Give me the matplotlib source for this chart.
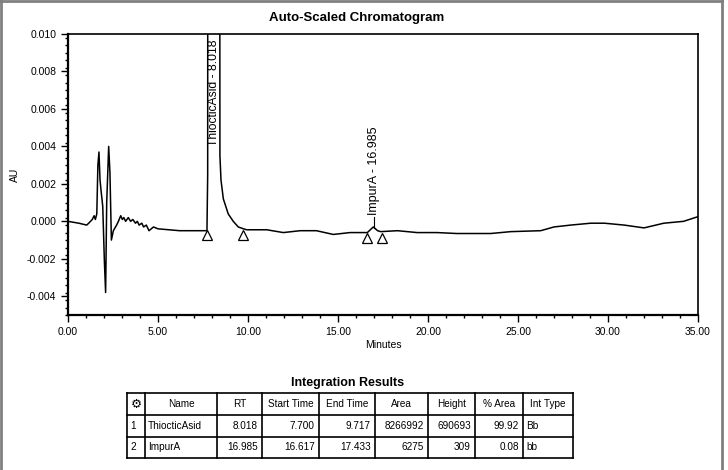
import matplotlib
matplotlib.use("Agg")
import matplotlib.pyplot as plt
from matplotlib.lines import Line2D

plt.rcParams["font.family"] = ["Liberation Sans", "DejaVu Sans"]

# ── chromatogram trace (minutes, AU) ───────────────────────────────────
t = [0.00, 0.60, 1.04, 1.15, 1.25, 1.35, 1.45, 1.52, 1.60, 1.66, 1.72,
     1.78, 1.83, 1.93, 2.02, 2.09, 2.15, 2.26, 2.33, 2.41, 2.52, 2.70, 2.80,
     2.93, 3.02, 3.10, 3.20, 3.35, 3.48, 3.60, 3.75, 3.85, 3.95, 4.10, 4.20,
     4.35, 4.50, 4.75, 5.00, 6.20, 7.00, 7.72, 7.76, 8.018, 8.44, 8.50, 8.63,
     8.90, 9.18, 9.46, 9.75, 9.93, 11.04, 11.96, 12.90, 13.80, 14.74, 15.67,
     16.44, 16.63, 16.96, 17.20, 17.37, 18.30, 19.40, 20.50, 21.60, 23.48,
     24.60, 26.26, 27.00, 27.93, 29.04, 29.80, 30.90, 32.00, 33.10, 34.20,
     35.00]
au = [0.0000, -0.0001, -0.0002, -0.0001, 0.0000, 0.0001, 0.0003, 0.0001,
      0.0004, 0.0030, 0.0037, 0.0022, 0.0017, 0.0008, -0.0021, -0.0038,
      0.0010, 0.0040, 0.0026, -0.0010, -0.0005, -0.0002, 0.0000, 0.0003,
      0.0001, 0.0002, 0.0000, 0.0002, 0.0000, 0.0001, -0.0001, 0.0000,
      -0.0002, -0.0001, -0.0003, -0.0002, -0.0005, -0.0003, -0.0004,
      -0.0005, -0.0005, -0.0005, 0.0025, 0.6907, 0.0035, 0.0022, 0.0012,
      0.0004, 0.0000, -0.0003, -0.0004, -0.00045, -0.00045, -0.0006, -0.0005,
      -0.0005, -0.0007, -0.0006, -0.0006, -0.0006, -0.0003, -0.0005,
      -0.00055, -0.0005, -0.0006, -0.0006, -0.00065, -0.00065, -0.00055,
      -0.0005, -0.0003, -0.0002, -0.0001, -0.0001, -0.0002, -0.00035,
      -0.0001, 0.0000, 0.00025]

# integration marks
bounds_t = [7.700, 9.717, 16.617, 17.433]
bounds_au = [-0.00075, -0.00075, -0.0009, -0.0009]
peak_names = ["ThiocticAsid", "ImpurA"]
peak_rt = [8.018, 16.985]
peak_label_au = [0.0040, 0.00035]

# integration results table
columns = ["", "Name", "RT", "Start Time", "End Time", "Area", "Height",
           "% Area", "Int Type"]
row_ids = ["1", "2"]
rt_vals = ["8.018", "16.985"]
start_vals = ["7.700", "16.617"]
end_vals = ["9.717", "17.433"]
area_vals = ["8266992", "6275"]
height_vals = ["690693", "309"]
pct_area = ["99.92", "0.08"]
int_type = ["Bb", "bb"]

W, H = 728, 470
fig = plt.figure(figsize=(W / 100, H / 100), dpi=100)

ax = fig.add_axes([68 / W, 1 - 315 / H, 630 / W, 281 / H])
ax.plot(t, au, color="black", linewidth=1.1)
ax.plot(bounds_t, bounds_au, linestyle="none", marker="^", markersize=7.5,
        markerfacecolor="white", markeredgecolor="black", markeredgewidth=0.9)

ax.set_xlim(0, 35)
ax.set_ylim(-0.005, 0.010)
ax.set_xticks([0, 5, 10, 15, 20, 25, 30, 35])
ax.set_xticklabels([f"{v:.2f}" for v in [0, 5, 10, 15, 20, 25, 30, 35]])
ax.set_xticks(range(0, 36), minor=True)
yt = [-0.004, -0.002, 0.000, 0.002, 0.004, 0.006, 0.008, 0.010]
ax.set_yticks(yt)
ax.set_yticklabels([f"{v:.3f}" for v in yt])
ax.set_yticks([-0.005 + 0.0004 * i for i in range(38)], minor=True)
ax.tick_params(which="both", direction="out", labelsize=7.5, width=1.0)
ax.tick_params(which="major", length=5)
ax.tick_params(which="minor", length=2.5)
for s in ["left", "bottom"]:
    ax.spines[s].set_linewidth(1.6)
for s in ["top", "right"]:
    ax.spines[s].set_linewidth(1.2)

ax.set_xlabel("Minutes", fontsize=7.5, labelpad=2)
ax.set_ylabel("AU", fontsize=7.5, labelpad=5)

fig.text(357 / W, 1 - 18 / H, "Auto-Scaled Chromatogram", ha="center",
         va="center", fontsize=9.5, fontweight="bold")

# peak labels
ax.text(peak_rt[0] + 0.09, peak_label_au[0], f"{peak_names[0]} - {peak_rt[0]:.3f}",
        rotation=90, ha="center", va="bottom", fontsize=8.7, clip_on=True)
ax.plot([peak_rt[1], peak_rt[1]], [-0.00035, peak_label_au[1] - 0.0001],
        color="black", linewidth=0.8)
ax.text(peak_rt[1], peak_label_au[1], f"{peak_names[1]} - {peak_rt[1]:.3f}",
        rotation=90, ha="center", va="bottom", fontsize=9)

# ── integration results table ──────────────────────────────────────────
xs = [127, 145, 217, 262, 319, 375, 428, 475, 523, 573]
ys = [393, 415, 437, 458]
tab = fig.add_axes([127 / W, 1 - 458 / H, 446 / W, 65 / H])
tab.set_xlim(127, 573)
tab.set_ylim(458, 393)
tab.axis("off")
for x in xs:
    tab.plot([x, x], [ys[0], ys[-1]], color="black", linewidth=1.2,
             clip_on=False)
for y in ys:
    tab.plot([xs[0], xs[-1]], [y, y], color="black", linewidth=1.2,
             clip_on=False)

fig.text(348 / W, 1 - 383 / H, "Integration Results", ha="center",
         va="center", fontsize=9, fontweight="bold")

hy = (ys[0] + ys[1]) / 2
tab.text((xs[0] + xs[1]) / 2, hy, "⚙", ha="center", va="center",
         fontsize=9, fontweight="bold", family=["DejaVu Sans"])
for i in range(1, len(columns)):
    tab.text((xs[i] + xs[i + 1]) / 2, hy, columns[i], ha="center",
             va="center", fontsize=7.2)

rows = list(zip(row_ids, peak_names, rt_vals, start_vals, end_vals,
                area_vals, height_vals, pct_area, int_type))
aligns = ["left", "left", "right", "right", "right", "right", "right",
          "right", "left"]
for r, row in enumerate(rows):
    cy = (ys[r + 1] + ys[r + 2]) / 2
    for c, val in enumerate(row):
        if aligns[c] == "left":
            tab.text(xs[c] + 3, cy, val, ha="left", va="center", fontsize=7.2)
        else:
            tab.text(xs[c + 1] - 4, cy, val, ha="right", va="center",
                     fontsize=7.2)

# outer grey frame (left, top, right)
for line in [([0.6 / W, 0.6 / W], [0, 1]),
             ([0, 722 / W], [1 - 0.8 / H, 1 - 0.8 / H]),
             ([721.5 / W, 721.5 / W], [0, 1])]:
    fig.add_artist(Line2D(line[0], line[1], color="#808080", linewidth=2.0))

fig.savefig("out.png", dpi=100)
